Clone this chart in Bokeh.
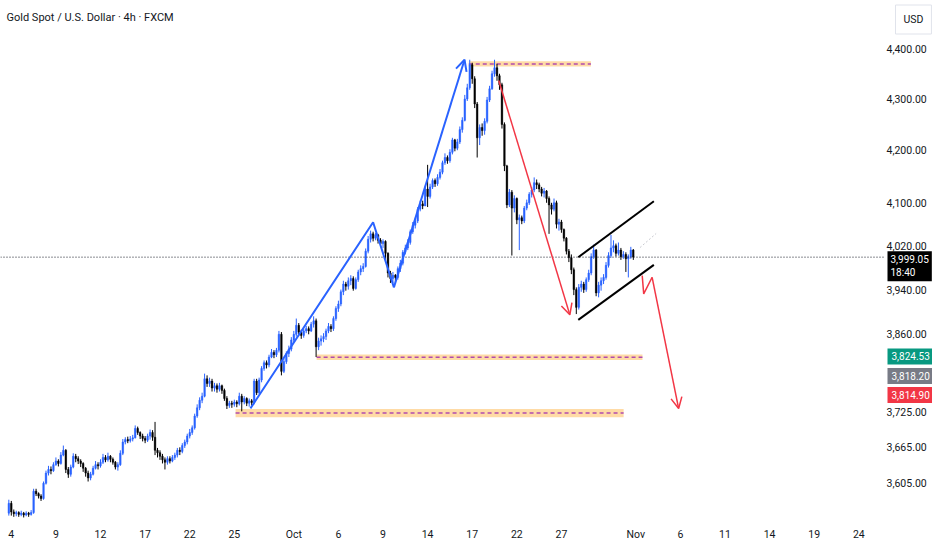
import numpy as np
from bokeh.plotting import figure
from bokeh.models import (Range1d, FixedTicker, NumeralTickFormatter, Label,
                          Arrow, OpenHead, ColumnDataSource)
from bokeh.embed import file_html
from bokeh.resources import INLINE

# ---------------- data (4h candles, XAU/USD, Sep 3 - Oct 31) ----------------
first_open = 3556.0
closes = [
    3572, 3558, 3555, 3557, 3554, 3556, 3553, 3556, 3554, 3557,   # 0-9
    3592, 3588, 3584, 3580, 3605, 3622, 3628, 3626, 3636, 3642,   # 10-19
    3638, 3652, 3660, 3628, 3620, 3632, 3650, 3646, 3642, 3638,   # 20-29
    3630, 3622, 3614, 3620, 3630, 3636, 3634, 3640, 3648, 3644,   # 30-39
    3650, 3645, 3640, 3632, 3636, 3655, 3674, 3678, 3676, 3679,   # 40-49
    3681, 3697, 3690, 3684, 3680, 3677, 3684, 3690, 3682, 3660,   # 50-59
    3656, 3650, 3644, 3640, 3646, 3642, 3648, 3652, 3660, 3658,   # 60-69
    3668, 3674, 3684, 3690, 3698, 3718, 3732, 3745, 3752, 3782,   # 70-79
    3774, 3778, 3766, 3770, 3764, 3770, 3762, 3748, 3736, 3740,   # 80-89
    3738, 3742, 3739, 3752, 3742, 3748, 3740, 3744, 3741, 3778,   # 90-99
    3758, 3780, 3800, 3810, 3806, 3820, 3828, 3824, 3832, 3860,   # 100-109
    3795, 3812, 3826, 3834, 3850, 3860, 3876, 3864, 3858, 3866,   # 110-119
    3870, 3866, 3878, 3884, 3838, 3848, 3852, 3856, 3866, 3874,   # 120-129
    3870, 3888, 3906, 3914, 3936, 3950, 3946, 3956, 3960, 3942,   # 130-139
    3958, 3972, 3978, 3982, 4010, 4032, 4042, 4034, 4040, 4030,   # 140-149
    4024, 4028, 4006, 3970, 3960, 3966, 3962, 3978, 3988, 4008,   # 150-159
    4016, 4026, 4046, 4058, 4066, 4088, 4098, 4094, 4126, 4112,   # 160-169
    4130, 4142, 4136, 4148, 4158, 4176, 4186, 4180, 4196, 4220,   # 170-179
    4204, 4216, 4240, 4258, 4300, 4322, 4368, 4340, 4290, 4224,   # 180-189
    4244, 4238, 4256, 4298, 4320, 4350, 4362, 4346, 4328, 4250,   # 190-199
    4170, 4096, 4120, 4090, 4108, 4068, 4072, 4066, 4090, 4100,   # 200-209
    4116, 4124, 4138, 4134, 4126, 4118, 4122, 4108, 4096, 4088,   # 210-219
    4100, 4060, 4064, 4050, 4034, 4010, 3998, 3976, 3940, 3908,   # 220-229
    3944, 3950, 3940, 3958, 3970, 4000, 4012, 3934, 3948, 3956,   # 230-239
    3962, 3984, 4002, 4016, 4020, 4006, 4012, 4000, 4004, 3996,   # 240-249
    4000, 4012, 3999.05,                                          # 250-252
]
highs = [
    3578, 3576, 3562, 3560, 3559, 3560, 3558, 3559, 3558, 3561,
    3596, 3596, 3590, 3587, 3608, 3626, 3634, 3633, 3640, 3648,
    3645, 3657, 3668, 3662, 3632, 3636, 3655, 3654, 3650, 3645,
    3640, 3632, 3626, 3624, 3634, 3642, 3640, 3645, 3654, 3652,
    3656, 3652, 3648, 3642, 3640, 3660, 3679, 3682, 3683, 3684,
    3686, 3702, 3700, 3692, 3688, 3684, 3688, 3695, 3694, 3708,
    3664, 3660, 3654, 3648, 3650, 3650, 3652, 3656, 3664, 3665,
    3672, 3678, 3688, 3696, 3702, 3722, 3738, 3750, 3758, 3791,
    3788, 3784, 3782, 3775, 3774, 3775, 3772, 3765, 3752, 3744,
    3744, 3746, 3745, 3758, 3756, 3752, 3750, 3748, 3747, 3782,
    3782, 3784, 3804, 3814, 3814, 3824, 3834, 3832, 3836, 3866,
    3864, 3818, 3830, 3840, 3855, 3866, 3888, 3880, 3868, 3870,
    3875, 3874, 3882, 3892, 3888, 3854, 3858, 3862, 3870, 3880,
    3878, 3892, 3910, 3920, 3940, 3956, 3954, 3962, 3966, 3964,
    3962, 3976, 3984, 3988, 4015, 4038, 4048, 4046, 4044, 4042,
    4034, 4032, 4030, 4008, 3974, 3972, 3968, 3982, 3994, 4012,
    4022, 4032, 4050, 4064, 4072, 4092, 4104, 4104, 4132, 4172,
    4136, 4146, 4146, 4154, 4164, 4180, 4194, 4190, 4202, 4224,
    4222, 4222, 4246, 4264, 4308, 4330, 4378, 4372, 4345, 4294,
    4250, 4252, 4262, 4304, 4326, 4356, 4378, 4370, 4350, 4332,
    4254, 4172, 4126, 4124, 4114, 4110, 4078, 4076, 4094, 4106,
    4120, 4130, 4148, 4144, 4138, 4130, 4128, 4124, 4112, 4100,
    4108, 4104, 4070, 4068, 4052, 4036, 4014, 4004, 3980, 3944,
    3950, 3956, 3954, 3962, 3976, 4006, 4022, 4014, 3954, 3962,
    3968, 3990, 4008, 4040, 4030, 4024, 4026, 4016, 4010, 4008,
    4004, 4018, 4014,
]
lows = [
    3552, 3552, 3550, 3551, 3550, 3551, 3549, 3551, 3550, 3552,
    3555, 3584, 3580, 3576, 3578, 3603, 3618, 3620, 3624, 3634,
    3633, 3636, 3650, 3622, 3614, 3616, 3630, 3640, 3637, 3632,
    3624, 3616, 3608, 3610, 3618, 3628, 3628, 3631, 3637, 3640,
    3641, 3640, 3636, 3628, 3626, 3634, 3652, 3670, 3672, 3673,
    3675, 3680, 3686, 3679, 3675, 3672, 3674, 3678, 3676, 3652,
    3648, 3644, 3638, 3628, 3636, 3638, 3640, 3644, 3648, 3652,
    3655, 3664, 3670, 3680, 3686, 3695, 3715, 3728, 3740, 3750,
    3768, 3768, 3760, 3760, 3758, 3760, 3756, 3744, 3730, 3732,
    3732, 3734, 3733, 3736, 3726, 3738, 3735, 3734, 3736, 3738,
    3754, 3756, 3776, 3796, 3800, 3802, 3818, 3818, 3820, 3828,
    3788, 3792, 3808, 3820, 3830, 3846, 3856, 3858, 3852, 3854,
    3862, 3860, 3864, 3872, 3820, 3832, 3840, 3846, 3850, 3862,
    3864, 3866, 3884, 3900, 3910, 3930, 3938, 3940, 3948, 3938,
    3940, 3954, 3966, 3972, 3980, 4006, 4026, 4028, 4030, 4024,
    4018, 4016, 3996, 3962, 3952, 3952, 3952, 3958, 3972, 3984,
    4004, 4012, 4022, 4042, 4052, 4062, 4084, 4088, 4094, 4092,
    4108, 4126, 4130, 4132, 4144, 4154, 4172, 4174, 4176, 4192,
    4198, 4200, 4212, 4234, 4256, 4296, 4318, 4330, 4282, 4186,
    4210, 4228, 4230, 4252, 4294, 4318, 4344, 4336, 4318, 4242,
    4160, 4090, 4092, 4002, 4082, 4060, 4012, 4060, 4062, 4086,
    4096, 4110, 4120, 4126, 4120, 4112, 4110, 4100, 4042, 4078,
    4084, 4052, 4048, 4044, 4028, 4004, 3990, 3968, 3930, 3896,
    3904, 3936, 3934, 3936, 3954, 3966, 3996, 3928, 3926, 3938,
    3950, 3958, 3980, 3998, 4008, 4000, 4002, 3994, 3996, 3972,
    3962, 3996, 3994,
]

# time axis: bar index of first 4h bar of each labelled trading day (6 bars/day)
tick_days = [0, 3, 6, 9, 12, 15, 19, 22, 25, 28, 31, 34, 37, 42, 45, 48, 51, 54, 57]
tick_labels = ["4", "9", "12", "17", "22", "25", "Oct", "6", "9", "14", "17", "22",
               "27", "Nov", "6", "11", "14", "19", "24"]
price_ticks = [3605, 3665, 3725, 3860, 3940, 4020, 4100, 4200, 4300, 4400]

# drawings (bar index, price)
blue_path_bar = [97.5, 147.0, 155.4, 183.9]
blue_path_price = [3731.0, 4063.6, 3944.0, 4378.0]
red1_bar = [197.7, 226.4]
red1_price = [4336.5, 3894.6]
red2_bar = [255.6, 256.2, 259.6, 270.3]
red2_price = [3965.4, 3932.2, 3962.3, 3730.8]
chan_bar = [229.8, 260.3]
chan_low = [3885.7, 3985.0]
chan_high = [3998.9, 4102.9]
faint_bar = [254.7, 261.2]
faint_price = [4016.6, 4042.6]
zone_left = [185.6, 124.2, 91.5]
zone_right = [234.9, 255.7, 248.1]
zone_top = [4375.0, 3824.53, 3730.2]
zone_bottom = [4364.4, 3814.90, 3715.8]

last_price = 3999.05
countdown = "18:40"
tag_prices = [3824.53, 3818.20, 3814.90]
tag_colors = ["#089981", "#787B86", "#F23645"]
tag_stack = [-2, -18, -35]

title = "Gold Spot / U.S. Dollar · 4h · FXCM"
FONT = "Roboto"
FS = "10.5px"
TAG_FS = "10px"
UP = "#2962FF"
DOWN = "#000000"
X_START, X_END = -3.36, 372.74      # full chart width (price scale drawn inside)
PRICE_SCALE_EDGE = 353.4            # bar position where the price scale begins

# ---------------- figure ----------------
p = figure(width=932, height=550, y_axis_type="log",
           x_range=Range1d(X_START, X_END), y_range=Range1d(3540.8, 4498.6),
           output_backend="svg", toolbar_location=None, y_axis_location="right",
           min_border_left=0, min_border_top=0, min_border_right=0, min_border_bottom=28,
           background_fill_color="white", border_fill_color="white",
           outline_line_color=None)
p.grid.visible = False

p.yaxis.ticker = FixedTicker(ticks=price_ticks)
p.yaxis.formatter = NumeralTickFormatter(format="0,0.00")
p.xaxis.ticker = FixedTicker(ticks=[1 + 6 * d for d in tick_days])
p.xaxis.major_label_overrides = {1 + 6 * d: lab for d, lab in zip(tick_days, tick_labels)}
for ax in (p.xaxis[0], p.yaxis[0]):
    ax.axis_line_color = None
    ax.major_tick_line_color = None
    ax.minor_tick_line_color = None
    ax.major_tick_out = 0
    ax.major_tick_in = 0
    ax.major_label_text_font = FONT
    ax.major_label_text_font_size = FS
    ax.major_label_text_color = "#131722"
p.yaxis.major_label_standoff = -46
p.xaxis.major_label_standoff = 5

# zones
zsrc = ColumnDataSource(dict(left=zone_left, right=zone_right, top=zone_top, bottom=zone_bottom,
                             mid=list(np.sqrt(np.array(zone_top) * np.array(zone_bottom)))))
p.quad(left="left", right="right", top="top", bottom="bottom", source=zsrc,
       fill_color="#FF9800", fill_alpha=0.35, line_color=None)
p.segment(x0="left", x1="right", y0="mid", y1="mid", source=zsrc,
          line_color="#9C27B0", line_width=1.5, line_dash="4 3", line_alpha=0.8)

# candles
c = np.array(closes, dtype=float)
o = np.concatenate([[first_open], c[:-1]])
h = np.maximum(np.array(highs, dtype=float), np.maximum(o, c))
l = np.minimum(np.array(lows, dtype=float), np.minimum(o, c))
idx = np.arange(len(c))
col = np.where(c >= o, UP, DOWN)
csrc = ColumnDataSource(dict(x=idx, top=np.maximum(o, c), bottom=np.minimum(o, c),
                             high=h, low=l, color=col))
p.segment(x0="x", x1="x", y0="high", y1="low", source=csrc, line_color="color", line_width=1)
p.vbar(x="x", width=0.62, top="top", bottom="bottom", source=csrc,
       fill_color="color", line_color="color", line_width=0.5)

# last price line (across the chart pane)
p.segment(x0=[X_START], x1=[PRICE_SCALE_EDGE], y0=[last_price], y1=[last_price],
          line_color="#131722", line_dash="1 2", line_width=1)

# blue impulse arrow
p.line(blue_path_bar[:-1], blue_path_price[:-1], line_color=UP, line_width=2)
p.add_layout(Arrow(end=OpenHead(size=11, line_color=UP, line_width=2),
                   x_start=blue_path_bar[-2], y_start=blue_path_price[-2],
                   x_end=blue_path_bar[-1], y_end=blue_path_price[-1],
                   line_color=UP, line_width=2))

# red arrows
p.add_layout(Arrow(end=OpenHead(size=11, line_color="#F23645", line_width=1.5),
                   x_start=red1_bar[0], y_start=red1_price[0],
                   x_end=red1_bar[1], y_end=red1_price[1],
                   line_color="#F23645", line_width=1.5))
p.line(red2_bar[:-1], red2_price[:-1], line_color="#F23645", line_width=1.5)
p.add_layout(Arrow(end=OpenHead(size=11, line_color="#F23645", line_width=1.5),
                   x_start=red2_bar[-2], y_start=red2_price[-2],
                   x_end=red2_bar[-1], y_end=red2_price[-1],
                   line_color="#F23645", line_width=1.5))

# channel
p.line(chan_bar, chan_low, line_color="#000000", line_width=2)
p.line(chan_bar, chan_high, line_color="#000000", line_width=2)
p.line(faint_bar, faint_price, line_color="#B2B5BE", line_width=1, line_dash="2 2", line_alpha=0.7)

# title
p.add_layout(Label(x=6, y=505, x_units="screen", y_units="screen", text=title,
                   text_font=FONT, text_font_size="11px", text_color="#131722",
                   text_baseline="middle"))
# currency box
p.add_layout(Label(x=895, y=503, x_units="screen", y_units="screen", text="USD",
                   text_font=FONT, text_font_size=FS, text_color="#131722",
                   text_baseline="middle", background_fill_color="white",
                   border_line_color="#E0E3EB", padding=8))

# price tags
p.add_layout(Label(x=887, y=last_price, x_units="screen", y_units="data",
                   text=f"{last_price:,.2f}\n{countdown}", text_font=FONT,
                   text_font_size=TAG_FS, text_color="white", text_baseline="top",
                   y_offset=6, background_fill_color="#000000", padding=3))
for pr, cl, off in zip(tag_prices, tag_colors, tag_stack):
    p.add_layout(Label(x=887, y=pr, x_units="screen", y_units="data",
                       text=f"{pr:,.2f}", text_font=FONT, text_font_size=TAG_FS,
                       text_color="white", text_baseline="middle", y_offset=off,
                       background_fill_color=cl, padding=4))

open("out.html", "w").write(file_html(p, INLINE))
